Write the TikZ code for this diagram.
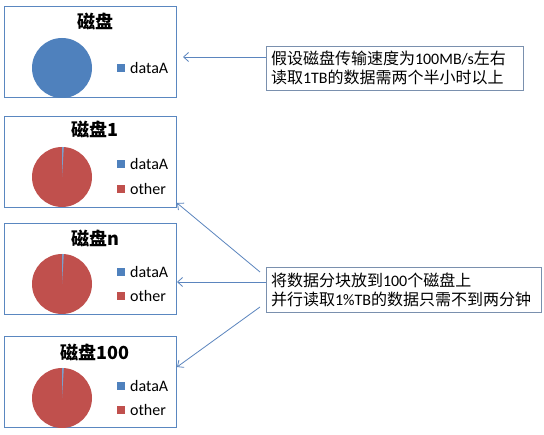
\documentclass[tikz,border=0pt]{standalone}
\usepackage{fontspec}
\setmainfont{Carlito}
\newfontfamily\cjk{Noto Sans CJK SC}
\usetikzlibrary{arrows.meta}
\definecolor{pieblue}{HTML}{4F81BD}
\definecolor{piered}{HTML}{C0504D}
\definecolor{boxline}{HTML}{5A87C0}
\definecolor{tline}{HTML}{7A90AE}
\definecolor{arrowc}{HTML}{5B85BE}
\tikzset{
  chartbox/.style={draw=boxline, line width=0.9pt, minimum width=172pt, minimum height=91pt, inner sep=0pt},
  charttitle/.style={font=\cjk\bfseries\fontsize{18}{20}\selectfont, inner sep=0pt},
  legtext/.style={font=\fontsize{16}{18}\selectfont, anchor=west, inner sep=0pt},
  legsq/.style={minimum size=8pt, inner sep=0pt},
  textbox/.style={draw=tline, line width=0.9pt, align=left, inner xsep=5pt, inner ysep=0pt,
    font=\cjk\fontsize{16}{19}\selectfont},
  conn/.style={draw=arrowc, line width=0.8pt, -{Straight Barb[length=5pt,width=9pt]}}
}
\newcommand{\lat}[1]{{\rmfamily #1}}
\begin{document}
\begin{tikzpicture}[x=1pt,y=-1pt]
\useasboundingbox[fill=white] (0,0) rectangle (544,435);
% chart 1
\node[chartbox] (d1) at (90,52) {};
\node[charttitle] (d1t) at (95,21) {磁盘};
\fill[pieblue] (62,68) circle (30);
\node[legsq, fill=pieblue] (d1s1) at (121,68) {};
\node[legtext] (d1l1) at (130,68) {dataA};
% chart 2
\node[chartbox] (d2) at (90,161.5) {};
\node[charttitle] (d2t) at (95,129) {磁盘1};
\fill[piered] (62,177) circle (30);
\fill[pieblue!75!white] (62,177) -- ++(90:-30) arc[start angle=-90, end angle=-86.5, radius=30] -- cycle;
\node[legsq, fill=pieblue] (d2s1) at (121,164) {};
\node[legtext] (d2l1) at (130,164) {dataA};
\node[legsq, fill=piered] (d2s2) at (121,189) {};
\node[legtext] (d2l2) at (130,189) {other};
% chart 3
\node[chartbox] (d3) at (90,268.5) {};
\node[charttitle] (d3t) at (95,238) {磁盘n};
\fill[piered] (62,284) circle (30);
\fill[pieblue!75!white] (62,284) -- ++(90:-30) arc[start angle=-90, end angle=-86.5, radius=30] -- cycle;
\node[legsq, fill=pieblue] (d3s1) at (121,272) {};
\node[legtext] (d3l1) at (130,272) {dataA};
\node[legsq, fill=piered] (d3s2) at (121,296) {};
\node[legtext] (d3l2) at (130,296) {other};
% chart 4
\node[chartbox] (d4) at (90,382) {};
\node[charttitle] (d4t) at (95,352) {磁盘100};
\fill[piered] (62,398) circle (30);
\fill[pieblue!75!white] (62,398) -- ++(90:-30) arc[start angle=-90, end angle=-86.5, radius=30] -- cycle;
\node[legsq, fill=pieblue] (d4s1) at (121,386) {};
\node[legtext] (d4l1) at (130,386) {dataA};
\node[legsq, fill=piered] (d4s2) at (121,410) {};
\node[legtext] (d4l2) at (130,410) {other};
% text boxes
\node[textbox, minimum width=257pt, minimum height=44pt, text width=247pt] (t1) at (394.5,68)
  {假设磁盘传输速度为\lat{100MB/s}左右\\读取\lat{1TB}的数据需两个半小时以上};
\node[textbox, minimum width=275pt, minimum height=45pt, text width=265pt] (t2) at (403.5,289.5)
  {将数据分块放到\lat{100}个磁盘上\\并行读取\lat{1\%TB}的数据只需不到两分钟};
% connector endpoints
\coordinate (a1s) at (266,57);
\coordinate (a1e) at (183,57);
\coordinate (a2s) at (260,272);
\coordinate (a2e) at (177,203);
\coordinate (a3s) at (266,282);
\coordinate (a3e) at (177,282);
\coordinate (a4s) at (260,307);
\coordinate (a4e) at (177,367);
\draw[conn] (a1s) -- (a1e);
\draw[conn] (a2s) -- (a2e);
\draw[conn] (a3s) -- (a3e);
\draw[conn] (a4s) -- (a4e);
\end{tikzpicture}
\end{document}
